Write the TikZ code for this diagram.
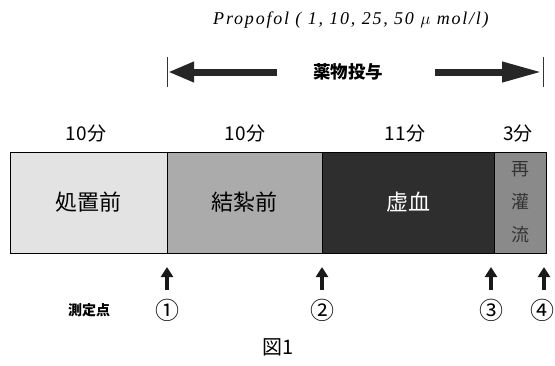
\documentclass[tikz,border=0pt]{standalone}
\usepackage{fontspec}
\setmainfont{Liberation Serif}
\newfontfamily\jp{Noto Sans CJK JP}
\usetikzlibrary{arrows.meta}
\definecolor{segA}{gray}{0.89}
\definecolor{segB}{gray}{0.67}
\definecolor{segC}{gray}{0.18}
\definecolor{segD}{gray}{0.54}
\tikzset{
  seg/.style={draw=black, line width=0.8pt, minimum height=101pt, inner sep=0pt, font=\jp\fontsize{22}{24}\selectfont},
  dur/.style={font=\jp\fontsize{19}{21}\selectfont},
  bigarrow/.style={line width=7pt, color=black!85},
  tickline/.style={line width=0.8pt, color=black!80},
  measarrow/.style={line width=4pt, -{Triangle[length=10pt,width=12pt]}, color=black!90},
  circ/.style={font=\jp\fontsize{24}{26}\selectfont},
}
\begin{document}
\begin{tikzpicture}[x=1pt,y=-1pt]
\useasboundingbox (0,0) rectangle (555,365);
\node[font=\itshape\addfontfeatures{LetterSpace=10}\fontsize{18}{20}\selectfont] (title) at (351,20) {Propofol ( 1, 10, 25, 50 $\mu$ mol/l)};
% drug administration arrows
\coordinate (tlt) at (167,57);
\coordinate (tlb) at (167,87);
\coordinate (trt) at (543,57);
\coordinate (trb) at (543,87);
\draw[tickline] (tlt) -- (tlb);
\draw[tickline] (trt) -- (trb);
\node[font=\jp\bfseries\fontsize{17.5}{19}\selectfont] (drug) at (348,72) {薬物投与};
\coordinate (las) at (277,72);
\coordinate (lae) at (168,72);
\coordinate (ras) at (435,72);
\coordinate (rae) at (542,72);
\draw[bigarrow, -{Triangle[length=26pt,width=19pt]}] (las) -- (lae);
\draw[bigarrow, -{Triangle[length=40pt,width=19pt]}] (ras) -- (rae);
% durations
\node[dur] (d1) at (86,133) {10分};
\node[dur] (d2) at (245,133) {10分};
\node[dur] (d3) at (405,133) {11分};
\node[dur] (d4) at (518,133) {3分};
% segments
\node[seg, fill=segA, minimum width=157pt] (s1) at (88.5,202.5) {処置前};
\node[seg, fill=segB, minimum width=155pt] (s2) at (244.5,202.5) {結紮前};
\node[seg, fill=segC, minimum width=172pt, text=white] (s3) at (408,202.5) {虚血};
\node[seg, fill=segD, minimum width=52pt, align=center, font=\jp\fontsize{18}{33}\selectfont, text=black!80] (s4) at (520,202.5) {再\\灌\\流};
% measurement points
\node[font=\jp\bfseries\fontsize{14}{16}\selectfont] (mlab) at (89,310) {測定点};
\node[circ] (m1) at (167,310) {①};
\node[circ] (m2) at (322,310) {②};
\node[circ] (m3) at (491,310) {③};
\node[circ] (m4) at (542,310) {④};
\coordinate (a1b) at (167,290);
\coordinate (a1t) at (167,267);
\coordinate (a2b) at (322,290);
\coordinate (a2t) at (322,267);
\coordinate (a3b) at (491,290);
\coordinate (a3t) at (491,267);
\coordinate (a4b) at (544,290);
\coordinate (a4t) at (544,267);
\draw[measarrow] (a1b) -- (a1t);
\draw[measarrow] (a2b) -- (a2t);
\draw[measarrow] (a3b) -- (a3t);
\draw[measarrow] (a4b) -- (a4t);
\node[font=\jp\fontsize{20}{22}\selectfont] (fig) at (278,347) {図1};
\end{tikzpicture}
\end{document}
